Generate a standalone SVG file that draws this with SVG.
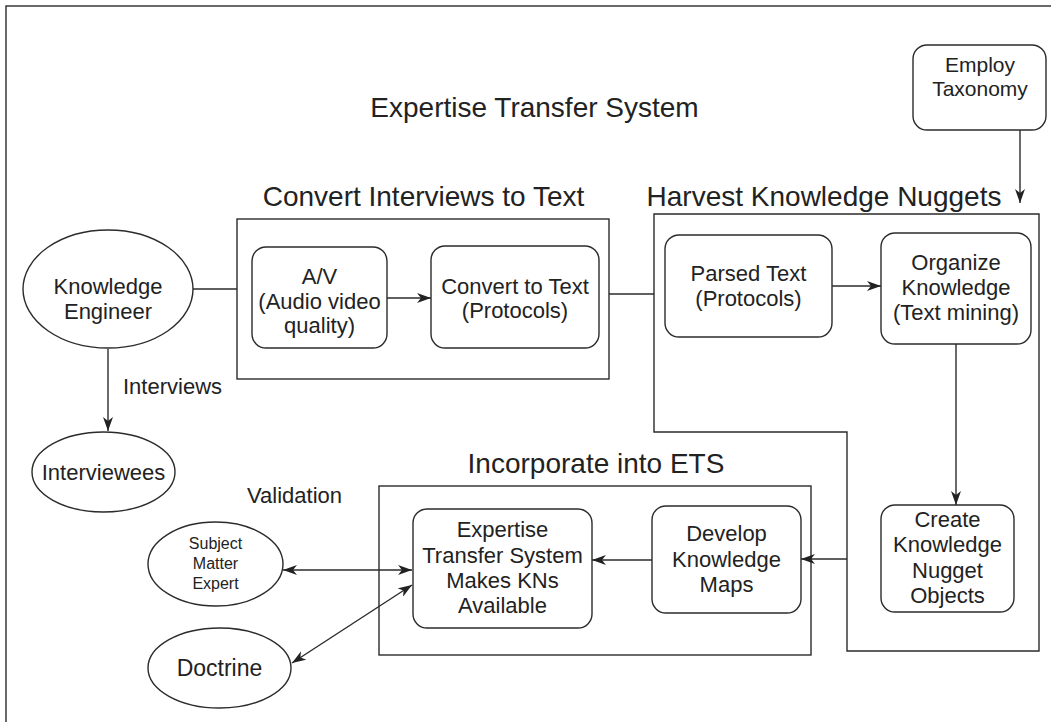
<svg xmlns="http://www.w3.org/2000/svg" width="1051" height="722" viewBox="0 0 1051 722">
<defs>
<style>
.ln{fill:none;stroke:#2b2b2b;stroke-width:1.4}
.bx{fill:#fff;stroke:#2b2b2b;stroke-width:1.4}
text{font-family:"Liberation Sans",Arial,sans-serif;fill:#222;text-anchor:middle}
.t{font-size:22px}
.h{font-size:28px}
.s{font-size:16px}
.l{font-size:22px;text-anchor:start}
</style>
<marker id="ah" viewBox="0 0 14 10" refX="14" refY="5" markerWidth="14" markerHeight="10" markerUnits="userSpaceOnUse" orient="auto-start-reverse">
<path d="M0,0 L14,5 L0,10 L4,5 Z" fill="#222"/>
</marker>
</defs>
<rect x="0" y="0" width="1051" height="722" fill="#fff"/>
<rect x="6" y="6" width="1070" height="740" class="ln"/>

<g id="titles">
<text class="h" x="534.5" y="117">Expertise Transfer System</text>
<text class="h" x="423.5" y="206">Convert Interviews to Text</text>
<text class="h" x="824" y="206">Harvest Knowledge Nuggets</text>
<text class="h" x="596" y="473">Incorporate into ETS</text>
</g>

<g id="group-convert"><rect class="bx" x="237" y="219" width="372" height="160"/></g>
<g id="group-harvest"><path class="bx" d="M654,214 H1039 V651 H847 V432 H654 Z"/></g>
<g id="group-incorporate"><rect class="bx" x="379" y="486" width="432" height="169"/></g>

<g id="connectors">
<line class="ln" x1="193" y1="289" x2="237" y2="289"/>
<line class="ln" x1="609" y1="294" x2="654" y2="294"/>
<line class="ln" x1="108" y1="349" x2="108" y2="431" marker-end="url(#ah)"/>
<line class="ln" x1="387" y1="298" x2="431" y2="298" marker-end="url(#ah)"/>
<line class="ln" x1="832" y1="286" x2="881" y2="286" marker-end="url(#ah)"/>
<line class="ln" x1="1020" y1="130" x2="1020" y2="203" marker-end="url(#ah)"/>
<line class="ln" x1="956" y1="344" x2="956" y2="505" marker-end="url(#ah)"/>
<line class="ln" x1="847" y1="559" x2="801" y2="559" marker-end="url(#ah)"/>
<line class="ln" x1="652" y1="560" x2="592" y2="560" marker-end="url(#ah)"/>
<line class="ln" x1="283" y1="570" x2="412" y2="570" marker-start="url(#ah)" marker-end="url(#ah)"/>
<line class="ln" x1="292" y1="663" x2="412" y2="585" marker-start="url(#ah)" marker-end="url(#ah)"/>
<text class="l" x="123" y="394">Interviews</text>
<text class="l" x="247" y="503">Validation</text>
</g>

<g id="knowledge-engineer">
<ellipse class="bx" cx="108" cy="289" rx="85" ry="59"/>
<text class="t" x="108" y="294">Knowledge</text>
<text class="t" x="108" y="319">Engineer</text>
</g>
<g id="interviewees">
<ellipse class="bx" cx="103.5" cy="472" rx="71.5" ry="40"/>
<text class="t" x="103.5" y="480">Interviewees</text>
</g>
<g id="sme">
<ellipse class="bx" cx="215.5" cy="564" rx="67.5" ry="42"/>
<text class="s" x="215.5" y="549">Subject</text>
<text class="s" x="215.5" y="569">Matter</text>
<text class="s" x="215.5" y="589">Expert</text>
</g>
<g id="doctrine">
<ellipse class="bx" cx="219.5" cy="668" rx="71.5" ry="40"/>
<text class="t" x="219.5" y="676" style="font-size:23px">Doctrine</text>
</g>
<g id="employ-taxonomy">
<rect class="bx" x="913" y="45" width="133" height="85" rx="14"/>
<text class="t" x="980" y="72" style="font-size:21px">Employ</text>
<text class="t" x="980" y="96" style="font-size:21px">Taxonomy</text>
</g>
<g id="av">
<rect class="bx" x="252" y="247" width="135" height="101" rx="14"/>
<text class="t" x="319.5" y="284">A/V</text>
<text class="t" x="319.5" y="309">(Audio video</text>
<text class="t" x="319.5" y="333">quality)</text>
</g>
<g id="convert-text">
<rect class="bx" x="431" y="246" width="168" height="102" rx="14"/>
<text class="t" x="515" y="294">Convert to Text</text>
<text class="t" x="515" y="318">(Protocols)</text>
</g>
<g id="parsed-text">
<rect class="bx" x="665" y="235" width="167" height="102" rx="14"/>
<text class="t" x="748.5" y="281">Parsed Text</text>
<text class="t" x="748.5" y="306">(Protocols)</text>
</g>
<g id="organize">
<rect class="bx" x="881" y="233" width="150" height="111" rx="14"/>
<text class="t" x="956" y="270">Organize</text>
<text class="t" x="956" y="295">Knowledge</text>
<text class="t" x="956" y="320">(Text mining)</text>
</g>
<g id="create-kn">
<rect class="bx" x="881" y="505" width="133" height="107" rx="14"/>
<text class="t" x="947.5" y="527">Create</text>
<text class="t" x="947.5" y="552">Knowledge</text>
<text class="t" x="947.5" y="578">Nugget</text>
<text class="t" x="947.5" y="603">Objects</text>
</g>
<g id="develop-maps">
<rect class="bx" x="652" y="506" width="149" height="107" rx="14"/>
<text class="t" x="726.5" y="541">Develop</text>
<text class="t" x="726.5" y="567">Knowledge</text>
<text class="t" x="726.5" y="592">Maps</text>
</g>
<g id="ets">
<rect class="bx" x="413" y="509" width="179" height="119" rx="14"/>
<text class="t" x="502.5" y="537">Expertise</text>
<text class="t" x="502.5" y="563">Transfer System</text>
<text class="t" x="502.5" y="588">Makes KNs</text>
<text class="t" x="502.5" y="613">Available</text>
</g>
</svg>
